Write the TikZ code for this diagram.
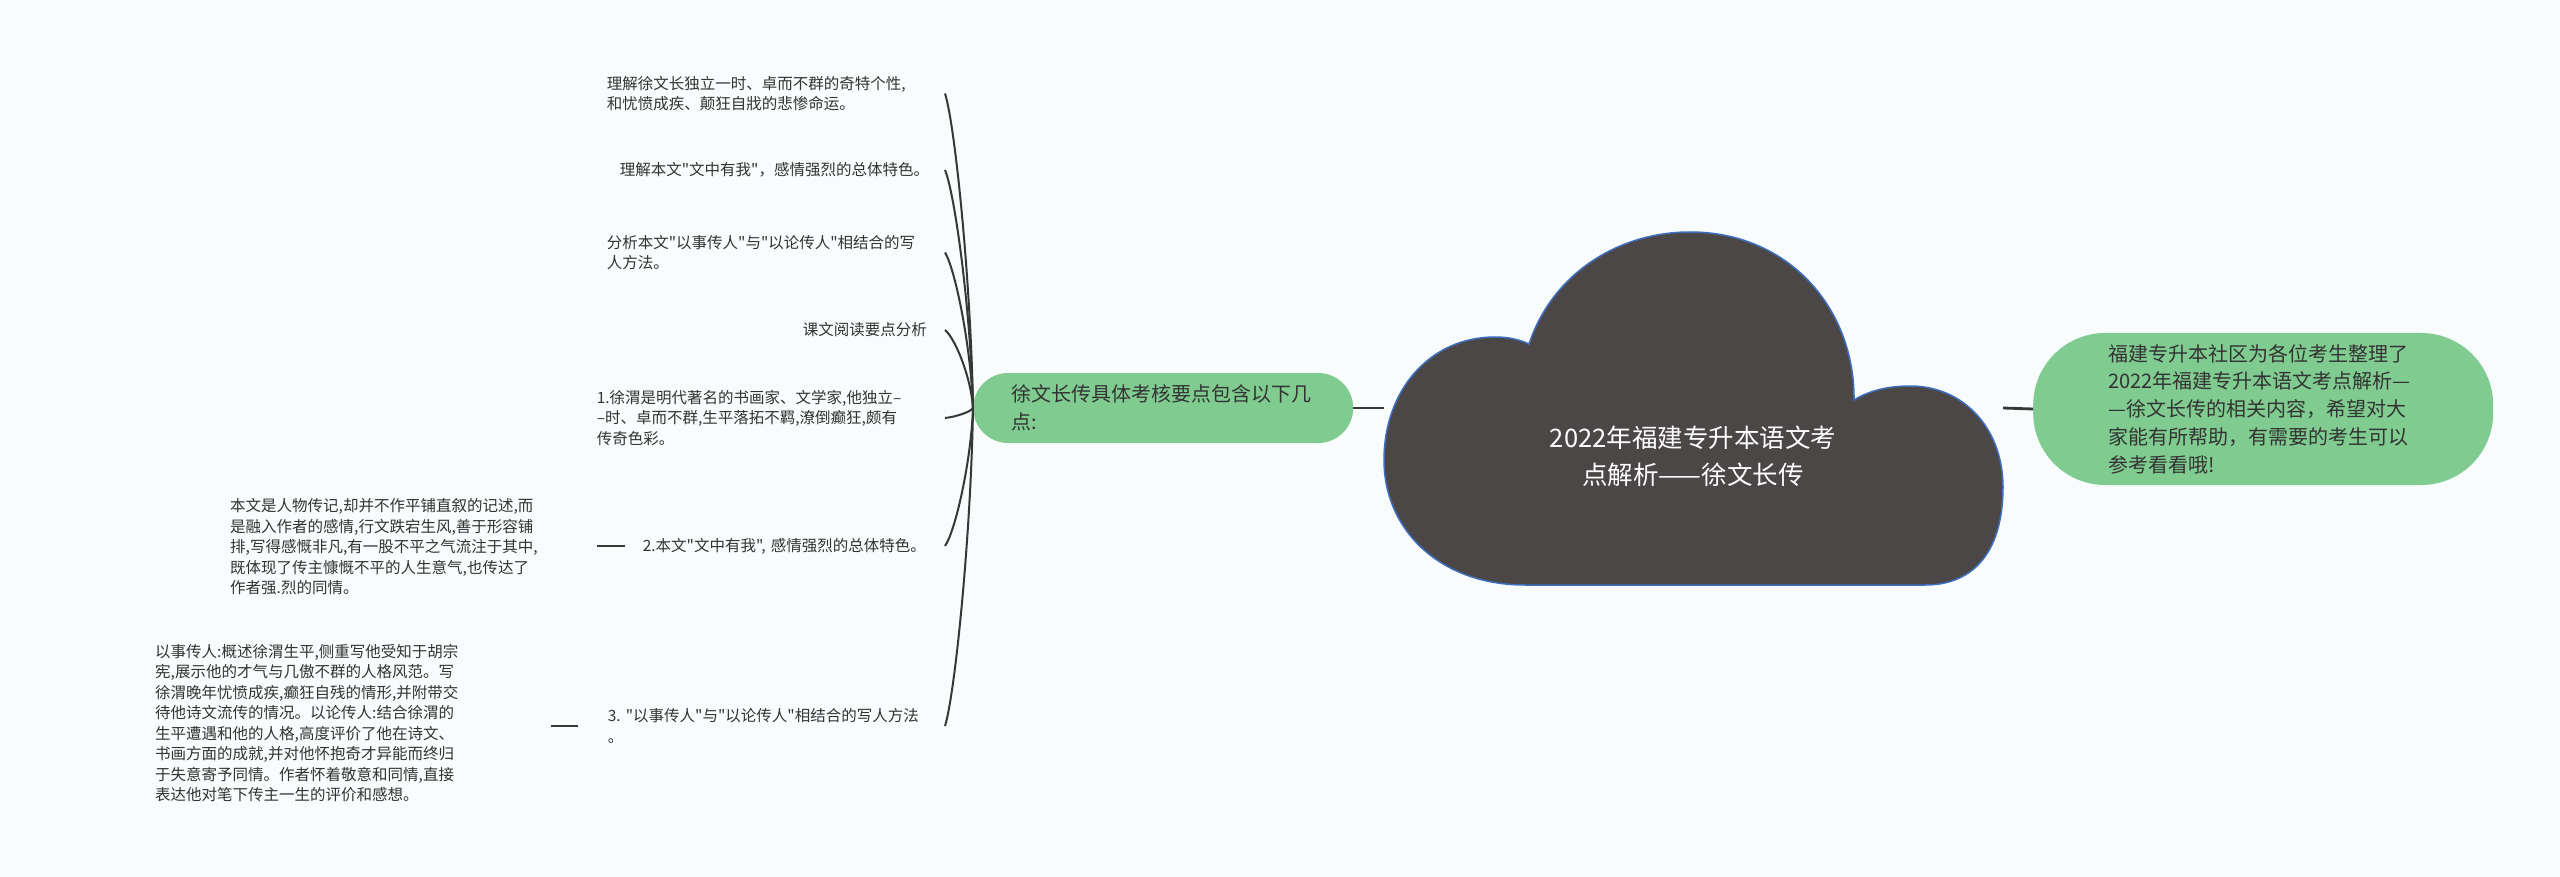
\documentclass[tikz,border=0pt]{standalone}
\usepackage{fontspec}
\setmainfont{Noto Sans CJK SC}[Ligatures=TeXOff]
\definecolor{bg}{RGB}{248,252,253}
\definecolor{nodegreen}{RGB}{128,204,144}
\definecolor{cloudfill}{RGB}{76,71,71}
\definecolor{cloudline}{RGB}{62,110,190}
\definecolor{txt}{RGB}{51,51,51}
\definecolor{linec}{RGB}{55,55,55}
\begin{document}
\begin{tikzpicture}[x=1pt,y=-1pt,
  leaf/.style={anchor=east, inner sep=0pt, align=left, text=txt, font=\fontsize{15.5}{20.5}\selectfont},
  pill/.style={fill=nodegreen, draw=none, align=left, text=txt, anchor=west, font=\fontsize{20}{27.8}\selectfont},
  hubline/.style={draw=linec, line width=2pt},
  barline/.style={draw=linec, line width=2.8pt},
]
\fill[bg] (0,0) rectangle (2560,877);
\useasboundingbox (0,0) rectangle (2560,877);

% cloud
\filldraw[fill=cloudfill, draw=cloudline, line width=1.5pt]
  (1529,344) .. controls (1553,272) and (1620,232) .. (1690,232)
  .. controls (1790,232) and (1855,310) .. (1854,400)
  .. controls (1870,390) and (1890,386) .. (1910,386)
  .. controls (1965,386) and (2003,430) .. (2003,487)
  .. controls (2003,550) and (1975,585) .. (1925,585)
  -- (1525,585)
  .. controls (1440,585) and (1384,530) .. (1384,460)
  .. controls (1384,390) and (1430,337) .. (1495,337)
  .. controls (1510,337) and (1520,340) .. (1529,344) -- cycle;
\node[font=\fontsize{25.5}{37}\selectfont, text=white, align=center, inner sep=0pt] (title) at (1693,456) {2022年福建专升本语文考\\点解析——徐文长传};
\coordinate (cloudW) at (1384,408);
\coordinate (cloudE) at (2003,408);

% green nodes
\node[pill, rounded corners=35pt, minimum width=380pt, minimum height=70pt, text width=304pt, inner xsep=38pt, inner ysep=0pt] (lnode) at (973,408) {徐文长传具体考核要点包含以下几\\点:};
\node[pill, rounded corners=72pt, minimum width=460pt, minimum height=152pt, text width=310pt, inner xsep=75pt, inner ysep=0pt] (rnode) at (2033,409) {福建专升本社区为各位考生整理了\\2022年福建专升本语文考点解析—\\—徐文长传的相关内容，希望对大\\家能有所帮助，有需要的考生可以\\参考看看哦!};

\draw[barline] (lnode.east) -- (cloudW);
\draw[barline] (cloudE) -- (rnode.west);

% leaves
\node[leaf, text width=338pt] (l1) at (945,93.5) {理解徐文长独立一时、卓而不群的奇特个性,\\和忧愤成疾、颠狂自戕的悲惨命运。};
\node[leaf, text width=325pt] (l2) at (945,170) {理解本文"文中有我"，感情强烈的总体特色。};
\node[leaf, text width=338pt] (l3) at (945,252.5) {分析本文"以事传人"与"以论传人"相结合的写\\人方法。};
\node[leaf, text width=142pt] (l4) at (945,330) {课文阅读要点分析};
\node[leaf, text width=348pt] (l5) at (945,418) {1.徐渭是明代著名的书画家、文学家,他独立–\\–时、卓而不群,生平落拓不羁,潦倒癫狂,颇有\\传奇色彩。};
\node[leaf, text width=302pt] (l6) at (945,546) {2.本文"文中有我",~感情强烈的总体特色。};
\node[leaf, text width=337pt] (l7) at (945,726) {3.~"以事传人"与"以论传人"相结合的写人方法\\。};

\node[leaf, anchor=west, text width=320pt] (c6) at (230,547) {本文是人物传记,却并不作平铺直叙的记述,而\\是融入作者的感情,行文跌宕生风,善于形容铺\\排,写得感慨非凡,有一股不平之气流注于其中,\\既体现了传主慷慨不平的人生意气,也传达了\\作者强.烈的同情。};
\node[leaf, anchor=west, text width=320pt] (c7) at (155,723) {以事传人:概述徐渭生平,侧重写他受知于胡宗\\宪,展示他的才气与几傲不群的人格风范。写\\徐渭晚年忧愤成疾,癫狂自残的情形,并附带交\\待他诗文流传的情况。以论传人:结合徐渭的\\生平遭遇和他的人格,高度评价了他在诗文、\\书画方面的成就,并对他怀抱奇才异能而终归\\于失意寄予同情。作者怀着敬意和同情,直接\\表达他对笔下传主一生的评价和感想。};

% hub curves
\draw[hubline] (l1.east) .. controls +(10,31) and +(-2,-126) .. (lnode.west);
\draw[hubline] (l2.east) .. controls +(10,24) and +(-2,-95) .. (lnode.west);
\draw[hubline] (l3.east) .. controls +(10,16) and +(-2,-62) .. (lnode.west);
\draw[hubline] (l4.east) .. controls +(10,8) and +(-2,-31) .. (lnode.west);
\draw[hubline] (l5.east) .. controls +(10,-1) and +(-2,4) .. (lnode.west);
\draw[hubline] (l6.east) .. controls +(10,-14) and +(-2,55) .. (lnode.west);
\draw[hubline] (l7.east) .. controls +(10,-32) and +(-2,127) .. (lnode.west);

% stubs toward detail texts
\draw[barline] ([xshift=-18pt]l6.west) -- ++(-28,0);
\draw[barline] ([xshift=-30pt]l7.west) -- ++(-27,0);
\end{tikzpicture}
\end{document}
